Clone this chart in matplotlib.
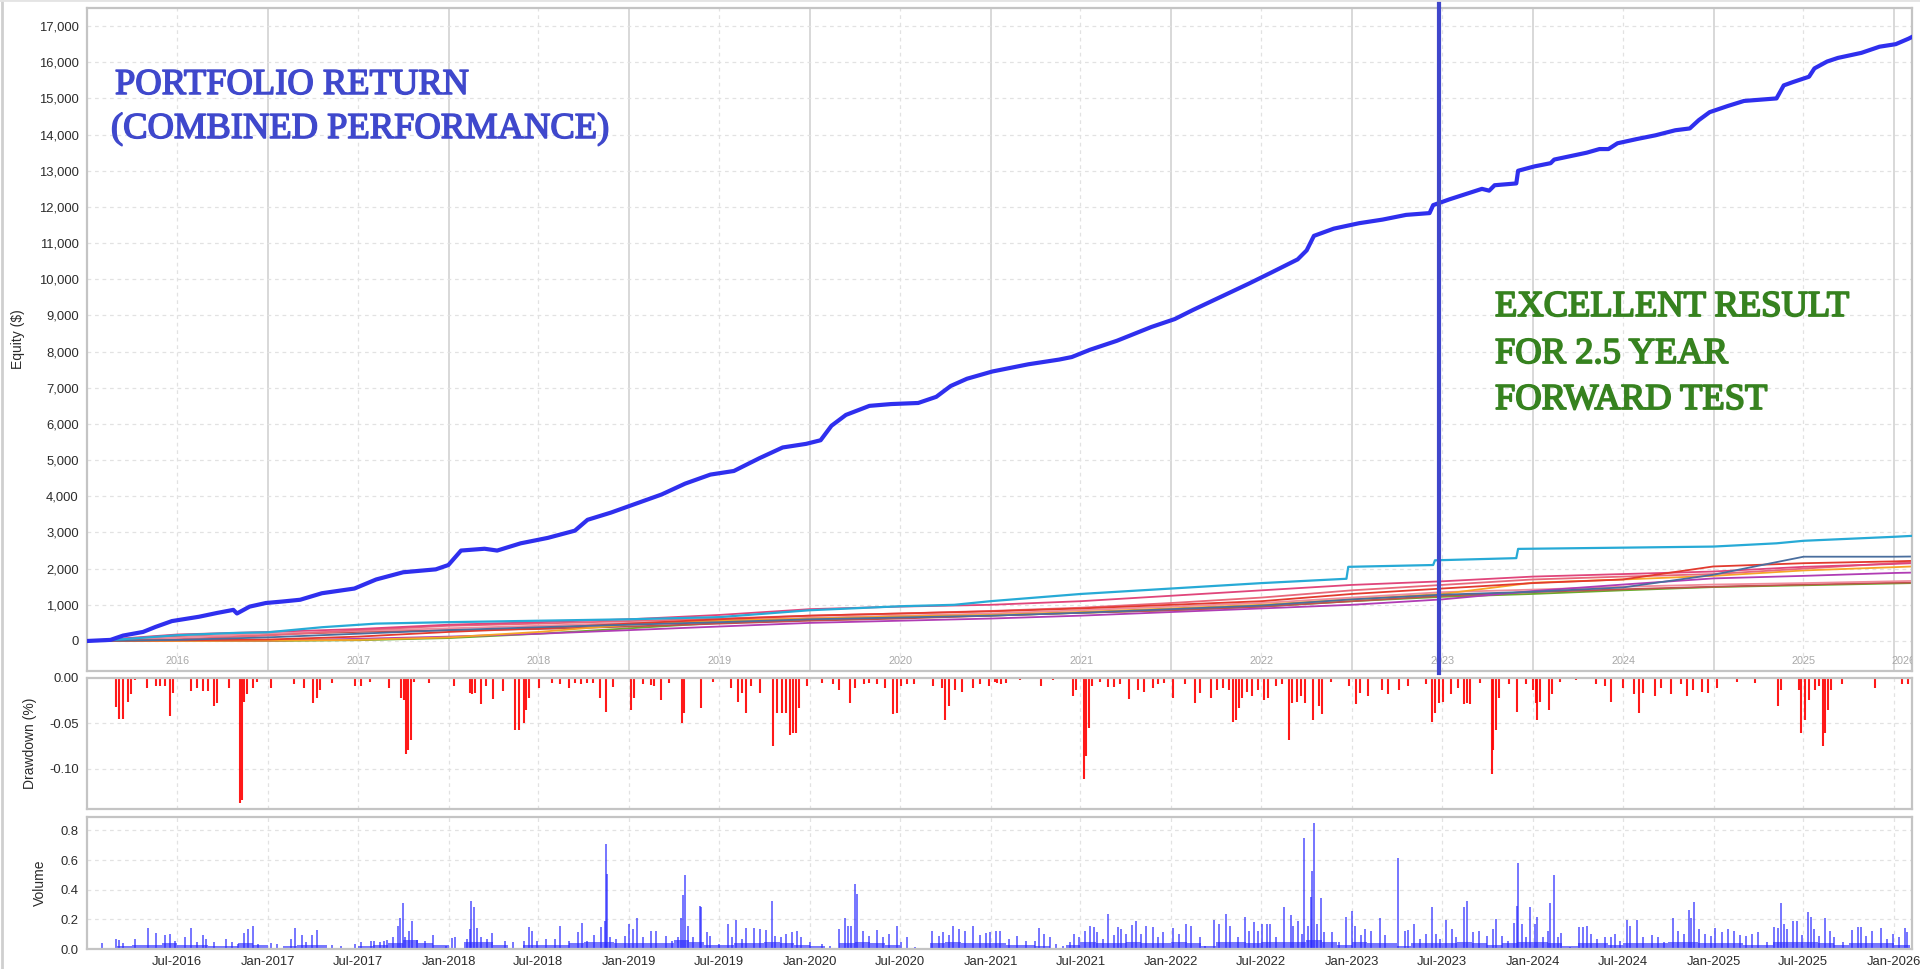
import matplotlib
matplotlib.use('Agg')
import matplotlib.pyplot as plt
import matplotlib.dates as mdates
import matplotlib.patheffects as pe
from matplotlib.lines import Line2D
import numpy as np
import pandas as pd

plt.rcParams['font.family'] = ['Liberation Sans', 'DejaVu Sans']
plt.rcParams['axes.unicode_minus'] = False

# ---------------- data ----------------
# portfolio equity (decimal year, $)
equity_years = [2016.00, 2016.13, 2016.20, 2016.31, 2016.38, 2016.47, 2016.62, 2016.72, 2016.81, 2016.83,
                2016.90, 2016.99, 2017.08, 2017.18, 2017.30, 2017.48, 2017.60, 2017.75, 2017.93, 2018.00,
                2018.07, 2018.20, 2018.27, 2018.40, 2018.55, 2018.70, 2018.77, 2018.90, 2019.04, 2019.18,
                2019.31, 2019.45, 2019.58, 2019.72, 2019.85, 2019.98, 2020.06, 2020.12, 2020.20, 2020.33,
                2020.45, 2020.60, 2020.70, 2020.78, 2020.87, 2021.01, 2021.21, 2021.38, 2021.45, 2021.55,
                2021.70, 2021.89, 2022.02, 2022.12, 2022.29, 2022.43, 2022.56, 2022.70, 2022.75, 2022.79,
                2022.90, 2023.04, 2023.17, 2023.30, 2023.43, 2023.45, 2023.54, 2023.72, 2023.76, 2023.79,
                2023.91, 2023.92, 2024.01, 2024.10, 2024.12, 2024.30, 2024.37, 2024.42, 2024.47, 2024.58,
                2024.68, 2024.79, 2024.87, 2024.92, 2024.98, 2025.08, 2025.17, 2025.35, 2025.39, 2025.44,
                2025.53, 2025.56, 2025.63, 2025.69, 2025.82, 2025.92, 2026.01, 2026.08, 2026.10]
equity_values = [0, 30, 150, 250, 390, 550, 670, 775, 860, 760,
                 950, 1050, 1090, 1140, 1320, 1450, 1700, 1900, 1980, 2100,
                 2500, 2550, 2500, 2700, 2850, 3050, 3350, 3550, 3800, 4050,
                 4350, 4600, 4700, 5050, 5350, 5450, 5550, 5950, 6250, 6500,
                 6550, 6580, 6750, 7050, 7250, 7450, 7650, 7780, 7850, 8050,
                 8300, 8680, 8900, 9150, 9550, 9880, 10200, 10550, 10800, 11200,
                 11400, 11550, 11650, 11780, 11830, 12050, 12210, 12500, 12450, 12600,
                 12650, 13000, 13120, 13210, 13310, 13500, 13600, 13600, 13760, 13880,
                 13980, 14120, 14170, 14400, 14620, 14790, 14930, 15000, 15360, 15450,
                 15600, 15830, 16020, 16120, 16260, 16430, 16500, 16650, 16700]

# individual strategies, sampled every half year
strat_years = [2016.0, 2016.5, 2017.0, 2017.5, 2018.0, 2018.5, 2019.0, 2019.5, 2020.0, 2020.5, 2021.0,
               2021.5, 2022.0, 2022.5, 2023.0, 2023.5, 2024.0, 2024.5, 2025.0, 2025.5, 2026.0, 2026.1]
strat_steel = [0, 30, 100, 200, 300, 380, 450, 520, 600, 650, 700, 780, 880, 980, 1150, 1280, 1360, 1480, 1830, 2330, 2330, 2335]
strat_red = [0, 20, 40, 120, 250, 350, 480, 600, 700, 760, 820, 900, 1000, 1100, 1300, 1450, 1600, 1700, 2060, 2150, 2200, 2215]
strat_crimson = [0, 180, 250, 330, 450, 520, 600, 720, 880, 950, 1000, 1100, 1250, 1400, 1550, 1650, 1780, 1850, 1920, 2050, 2130, 2150]
strat_salmon = [0, 50, 150, 300, 420, 480, 550, 620, 700, 760, 830, 920, 1050, 1200, 1400, 1550, 1700, 1780, 1850, 2000, 2150, 2180]
strat_orange = [0, 0, 10, 30, 100, 250, 450, 560, 620, 680, 720, 800, 900, 1000, 1150, 1300, 1610, 1700, 1800, 1950, 2040, 2060]
strat_magenta = [0, 0, 10, 60, 120, 200, 300, 400, 500, 560, 620, 700, 800, 900, 1000, 1150, 1380, 1560, 1730, 1800, 1880, 1890]
strat_ltpink = [0, 100, 200, 280, 350, 420, 500, 560, 640, 700, 760, 850, 950, 1050, 1200, 1350, 1420, 1500, 1560, 1600, 1650, 1660]
strat_brown = [0, 120, 180, 250, 300, 330, 400, 480, 560, 620, 700, 780, 850, 950, 1100, 1250, 1350, 1430, 1500, 1560, 1610, 1615]
strat_green = [0, 0, 0, 20, 80, 200, 350, 500, 600, 650, 700, 780, 850, 950, 1100, 1220, 1300, 1400, 1490, 1540, 1590, 1600]

cyan_years = [2016.0, 2016.2, 2016.5, 2016.8, 2017.0, 2017.3, 2017.6, 2018.0, 2018.5, 2019.0, 2019.5, 2020.0,
              2020.5, 2020.8, 2021.0, 2021.5, 2022.0, 2022.5, 2022.97, 2022.98, 2023.45, 2023.46, 2023.91,
              2023.92, 2024.5, 2025.0, 2025.35, 2025.5, 2026.0, 2026.1]
cyan_values = [0, 50, 160, 220, 240, 380, 480, 520, 560, 600, 660, 850,
               960, 1000, 1100, 1300, 1450, 1600, 1720, 2050, 2100, 2230, 2290,
               2546, 2580, 2610, 2700, 2770, 2880, 2906]

# drawdown bars (decimal year, %)
dd_years = [2016.159, 2016.175, 2016.201, 2016.227, 2016.243, 2016.266, 2016.331, 2016.380, 2016.403, 2016.429,
            2016.461, 2016.477, 2016.575, 2016.607, 2016.640, 2016.672, 2016.705, 2016.721, 2016.786, 2016.844,
            2016.857, 2016.870, 2016.883, 2016.916, 2016.942, 2017.019, 2017.143, 2017.201, 2017.250, 2017.273,
            2017.289, 2017.354, 2017.484, 2017.516, 2017.565, 2017.669, 2017.737, 2017.753, 2017.766, 2017.776,
            2017.792, 2017.808, 2017.890, 2018.029, 2018.117, 2018.133, 2018.149, 2018.182, 2018.208, 2018.247,
            2018.302, 2018.367, 2018.393, 2018.416, 2018.432, 2018.448, 2018.500, 2018.571, 2018.620, 2018.669,
            2018.701, 2018.734, 2018.766, 2018.799, 2018.841, 2018.873, 2018.912, 2019.010, 2019.026, 2019.075,
            2019.123, 2019.140, 2019.179, 2019.221, 2019.292, 2019.302, 2019.399, 2019.464, 2019.562, 2019.604,
            2019.627, 2019.649, 2019.675, 2019.724, 2019.799, 2019.821, 2019.844, 2019.870, 2019.893, 2019.909,
            2019.925, 2019.942, 2019.984, 2020.065, 2020.130, 2020.162, 2020.221, 2020.253, 2020.302, 2020.325,
            2020.373, 2020.416, 2020.461, 2020.481, 2020.503, 2020.536, 2020.578, 2020.682, 2020.731, 2020.747,
            2020.773, 2020.805, 2020.844, 2020.903, 2020.942, 2020.990, 2021.023, 2021.035, 2021.061, 2021.084,
            2021.165, 2021.279, 2021.344, 2021.458, 2021.474, 2021.516, 2021.529, 2021.546, 2021.562, 2021.604,
            2021.653, 2021.685, 2021.718, 2021.767, 2021.815, 2021.848, 2021.897, 2021.929, 2021.962, 2022.011,
            2022.076, 2022.132, 2022.157, 2022.222, 2022.254, 2022.287, 2022.320, 2022.342, 2022.359, 2022.375,
            2022.394, 2022.417, 2022.450, 2022.482, 2022.515, 2022.537, 2022.580, 2022.612, 2022.654, 2022.671,
            2022.694, 2022.716, 2022.742, 2022.785, 2022.817, 2022.833, 2022.882, 2022.986, 2023.025, 2023.045,
            2023.090, 2023.165, 2023.198, 2023.263, 2023.311, 2023.409, 2023.441, 2023.458, 2023.480, 2023.507,
            2023.546, 2023.588, 2023.620, 2023.637, 2023.653, 2023.708, 2023.773, 2023.783, 2023.799, 2023.816,
            2023.871, 2023.913, 2023.962, 2024.001, 2024.017, 2024.027, 2024.043, 2024.092, 2024.108, 2024.150,
            2024.238, 2024.352, 2024.401, 2024.433, 2024.498, 2024.563, 2024.589, 2024.612, 2024.677, 2024.710,
            2024.768, 2024.824, 2024.856, 2024.889, 2024.937, 2024.970, 2025.019, 2025.133, 2025.230, 2025.360,
            2025.376, 2025.474, 2025.484, 2025.507, 2025.529, 2025.562, 2025.588, 2025.607, 2025.620, 2025.637,
            2025.653, 2025.711, 2025.897, 2026.043, 2026.076]
dd_values = [-0.032, -0.045, -0.045, -0.026, -0.018, -0.002, -0.011, -0.009, -0.009, -0.009,
             -0.042, -0.017, -0.014, -0.011, -0.014, -0.014, -0.031, -0.028, -0.011, -0.137,
             -0.134, -0.026, -0.018, -0.011, -0.004, -0.011, -0.007, -0.011, -0.027, -0.022,
             -0.013, -0.006, -0.009, -0.009, -0.004, -0.011, -0.022, -0.024, -0.083, -0.079,
             -0.068, -0.004, -0.006, -0.009, -0.017, -0.018, -0.017, -0.029, -0.009, -0.023,
             -0.014, -0.057, -0.057, -0.050, -0.035, -0.022, -0.011, -0.006, -0.007, -0.011,
             -0.006, -0.007, -0.005, -0.006, -0.022, -0.037, -0.010, -0.035, -0.022, -0.007,
             -0.008, -0.009, -0.024, -0.006, -0.050, -0.039, -0.033, -0.004, -0.011, -0.026,
             -0.017, -0.038, -0.009, -0.017, -0.075, -0.039, -0.039, -0.039, -0.063, -0.061,
             -0.061, -0.033, -0.009, -0.006, -0.007, -0.013, -0.028, -0.011, -0.007, -0.006,
             -0.007, -0.011, -0.040, -0.039, -0.009, -0.007, -0.007, -0.009, -0.011, -0.046,
             -0.031, -0.013, -0.015, -0.011, -0.007, -0.009, -0.004, -0.006, -0.007, -0.006,
             -0.002, -0.009, -0.002, -0.020, -0.013, -0.111, -0.086, -0.055, -0.009, -0.004,
             -0.010, -0.010, -0.007, -0.023, -0.013, -0.015, -0.011, -0.007, -0.006, -0.022,
             -0.007, -0.027, -0.017, -0.022, -0.013, -0.011, -0.013, -0.048, -0.046, -0.033,
             -0.022, -0.015, -0.020, -0.013, -0.024, -0.022, -0.009, -0.007, -0.068, -0.028,
             -0.026, -0.020, -0.028, -0.046, -0.031, -0.040, -0.004, -0.009, -0.029, -0.017,
             -0.020, -0.013, -0.018, -0.013, -0.009, -0.007, -0.048, -0.039, -0.028, -0.026,
             -0.018, -0.011, -0.029, -0.028, -0.029, -0.006, -0.105, -0.079, -0.057, -0.022,
             -0.007, -0.037, -0.007, -0.013, -0.028, -0.046, -0.026, -0.035, -0.018, -0.004,
             -0.002, -0.007, -0.009, -0.026, -0.011, -0.018, -0.039, -0.017, -0.020, -0.011,
             -0.018, -0.007, -0.020, -0.013, -0.015, -0.017, -0.011, -0.004, -0.006, -0.031,
             -0.013, -0.013, -0.061, -0.046, -0.024, -0.013, -0.009, -0.075, -0.061, -0.035,
             -0.013, -0.007, -0.011, -0.007, -0.007]

# volume spikes (decimal year, lots)
vol_years = [2016.081, 2016.159, 2016.175, 2016.201, 2016.266, 2016.338, 2016.380, 2016.429, 2016.461, 2016.487,
             2016.542, 2016.575, 2016.607, 2016.640, 2016.656, 2016.705, 2016.769, 2016.802, 2016.834, 2016.867,
             2016.890, 2016.916, 2016.948, 2017.019, 2017.052, 2017.127, 2017.149, 2017.192, 2017.214, 2017.247,
             2017.273, 2017.354, 2017.403, 2017.484, 2017.516, 2017.571, 2017.588, 2017.623, 2017.646, 2017.662,
             2017.695, 2017.721, 2017.731, 2017.747, 2017.760, 2017.782, 2017.799, 2017.825, 2017.873, 2017.916,
             2017.987, 2018.019, 2018.036, 2018.101, 2018.117, 2018.127, 2018.143, 2018.156, 2018.182, 2018.214,
             2018.240, 2018.312, 2018.360, 2018.416, 2018.448, 2018.461, 2018.490, 2018.539, 2018.588, 2018.620,
             2018.669, 2018.718, 2018.740, 2018.766, 2018.805, 2018.847, 2018.864, 2018.873, 2018.880, 2018.896,
             2018.929, 2018.977, 2019.000, 2019.019, 2019.042, 2019.075, 2019.123, 2019.149, 2019.205, 2019.237,
             2019.269, 2019.289, 2019.299, 2019.312, 2019.328, 2019.351, 2019.390, 2019.399, 2019.432, 2019.448,
             2019.497, 2019.545, 2019.571, 2019.594, 2019.627, 2019.649, 2019.692, 2019.724, 2019.756, 2019.789,
             2019.805, 2019.838, 2019.870, 2019.903, 2019.929, 2019.951, 2020.000, 2020.065, 2020.114, 2020.162,
             2020.195, 2020.211, 2020.227, 2020.253, 2020.260, 2020.292, 2020.325, 2020.373, 2020.406, 2020.438,
             2020.481, 2020.503, 2020.536, 2020.584, 2020.675, 2020.714, 2020.740, 2020.773, 2020.795, 2020.828,
             2020.860, 2020.903, 2020.942, 2020.974, 2021.000, 2021.032, 2021.051, 2021.100, 2021.149, 2021.198,
             2021.246, 2021.269, 2021.295, 2021.328, 2021.360, 2021.399, 2021.441, 2021.464, 2021.490, 2021.523,
             2021.549, 2021.572, 2021.588, 2021.620, 2021.650, 2021.685, 2021.708, 2021.724, 2021.750, 2021.783,
             2021.806, 2021.832, 2021.858, 2021.897, 2021.929, 2021.955, 2022.011, 2022.043, 2022.082, 2022.108,
             2022.157, 2022.189, 2022.238, 2022.264, 2022.303, 2022.326, 2022.368, 2022.411, 2022.433, 2022.456,
             2022.482, 2022.505, 2022.531, 2022.547, 2022.580, 2022.622, 2022.661, 2022.677, 2022.700, 2022.726,
             2022.736, 2022.759, 2022.775, 2022.781, 2022.788, 2022.807, 2022.830, 2022.846, 2022.889, 2022.928,
             2022.970, 2023.002, 2023.019, 2023.051, 2023.074, 2023.107, 2023.155, 2023.181, 2023.253, 2023.295,
             2023.311, 2023.344, 2023.376, 2023.409, 2023.441, 2023.467, 2023.490, 2023.523, 2023.555, 2023.578,
             2023.620, 2023.637, 2023.669, 2023.702, 2023.750, 2023.783, 2023.799, 2023.832, 2023.864, 2023.897,
             2023.913, 2023.920, 2023.939, 2023.962, 2023.985, 2024.011, 2024.027, 2024.059, 2024.085, 2024.098,
             2024.118, 2024.141, 2024.157, 2024.206, 2024.255, 2024.280, 2024.303, 2024.326, 2024.359, 2024.401,
             2024.433, 2024.456, 2024.482, 2024.521, 2024.541, 2024.580, 2024.612, 2024.661, 2024.693, 2024.726,
             2024.775, 2024.807, 2024.840, 2024.866, 2024.879, 2024.895, 2024.921, 2024.954, 2024.986, 2025.009,
             2025.051, 2025.084, 2025.116, 2025.149, 2025.181, 2025.214, 2025.246, 2025.295, 2025.334, 2025.360,
             2025.376, 2025.393, 2025.409, 2025.441, 2025.464, 2025.490, 2025.523, 2025.539, 2025.555, 2025.588,
             2025.620, 2025.646, 2025.669, 2025.718, 2025.767, 2025.799, 2025.816, 2025.848, 2025.880, 2025.929,
             2025.962, 2025.994, 2026.026, 2026.059, 2026.075]
vol_values = [0.038, 0.067, 0.061, 0.038, 0.067, 0.139, 0.108, 0.097, 0.101, 0.056,
              0.079, 0.139, 0.045, 0.097, 0.067, 0.045, 0.067, 0.045, 0.034, 0.106,
              0.135, 0.157, 0.034, 0.038, 0.034, 0.067, 0.139, 0.097, 0.045, 0.097,
              0.128, 0.027, 0.022, 0.034, 0.045, 0.056, 0.052, 0.045, 0.056, 0.061,
              0.079, 0.157, 0.209, 0.310, 0.079, 0.124, 0.191, 0.061, 0.056, 0.097,
              0.022, 0.072, 0.079, 0.067, 0.135, 0.326, 0.285, 0.142, 0.079, 0.067,
              0.106, 0.056, 0.045, 0.056, 0.146, 0.124, 0.056, 0.067, 0.067, 0.157,
              0.056, 0.112, 0.175, 0.056, 0.094, 0.146, 0.191, 0.708, 0.506, 0.079,
              0.067, 0.090, 0.169, 0.135, 0.209, 0.079, 0.124, 0.124, 0.090, 0.056,
              0.079, 0.209, 0.366, 0.499, 0.157, 0.079, 0.292, 0.281, 0.112, 0.090,
              0.034, 0.169, 0.079, 0.196, 0.067, 0.142, 0.142, 0.135, 0.128, 0.326,
              0.090, 0.079, 0.101, 0.112, 0.119, 0.079, 0.045, 0.034, 0.022, 0.135,
              0.209, 0.157, 0.157, 0.438, 0.371, 0.119, 0.090, 0.128, 0.079, 0.101,
              0.157, 0.045, 0.079, 0.011, 0.119, 0.090, 0.112, 0.097, 0.157, 0.135,
              0.119, 0.157, 0.097, 0.106, 0.112, 0.124, 0.124, 0.067, 0.090, 0.056,
              0.056, 0.142, 0.101, 0.079, 0.034, 0.022, 0.045, 0.101, 0.079, 0.124,
              0.157, 0.146, 0.112, 0.067, 0.236, 0.097, 0.151, 0.135, 0.101, 0.164,
              0.191, 0.101, 0.157, 0.151, 0.079, 0.112, 0.142, 0.101, 0.169, 0.157,
              0.079, 0.022, 0.198, 0.169, 0.236, 0.157, 0.079, 0.218, 0.124, 0.180,
              0.124, 0.169, 0.169, 0.169, 0.079, 0.281, 0.229, 0.157, 0.191, 0.101,
              0.748, 0.157, 0.348, 0.528, 0.852, 0.169, 0.342, 0.112, 0.112, 0.049,
              0.218, 0.258, 0.157, 0.097, 0.135, 0.124, 0.209, 0.097, 0.611, 0.124,
              0.128, 0.169, 0.067, 0.101, 0.281, 0.101, 0.067, 0.198, 0.135, 0.079,
              0.285, 0.321, 0.112, 0.124, 0.090, 0.135, 0.202, 0.090, 0.056, 0.173,
              0.292, 0.578, 0.169, 0.079, 0.281, 0.169, 0.218, 0.079, 0.124, 0.310,
              0.499, 0.079, 0.108, 0.011, 0.146, 0.146, 0.157, 0.101, 0.067, 0.079,
              0.079, 0.101, 0.056, 0.198, 0.157, 0.198, 0.083, 0.097, 0.079, 0.045,
              0.209, 0.124, 0.101, 0.263, 0.209, 0.315, 0.135, 0.101, 0.090, 0.139,
              0.112, 0.135, 0.124, 0.097, 0.090, 0.101, 0.112, 0.045, 0.146, 0.142,
              0.308, 0.169, 0.135, 0.191, 0.191, 0.097, 0.247, 0.218, 0.135, 0.090,
              0.209, 0.124, 0.079, 0.045, 0.128, 0.146, 0.151, 0.090, 0.124, 0.142,
              0.067, 0.101, 0.079, 0.142, 0.112]

# typical daily volume per month, Jan-2016 .. Jan-2026
vol_base = [0.00, 0.01, 0.02, 0.03, 0.03, 0.04, 0.03, 0.03, 0.02, 0.02, 0.04, 0.03,
            0.01, 0.02, 0.03, 0.03, 0.01, 0.01, 0.02, 0.03, 0.04, 0.06, 0.04, 0.03,
            0.01, 0.05, 0.05, 0.03, 0.01, 0.03, 0.03, 0.03, 0.04, 0.05, 0.05, 0.04,
            0.04, 0.04, 0.04, 0.06, 0.05, 0.03, 0.03, 0.04, 0.04, 0.05, 0.04, 0.03,
            0.02, 0.01, 0.04, 0.05, 0.04, 0.03, 0.01, 0.00, 0.04, 0.05, 0.04, 0.04,
            0.04, 0.03, 0.03, 0.02, 0.01, 0.03, 0.05, 0.04, 0.04, 0.05, 0.04, 0.04,
            0.05, 0.04, 0.02, 0.05, 0.05, 0.04, 0.05, 0.05, 0.05, 0.06, 0.05, 0.03,
            0.05, 0.04, 0.04, 0.02, 0.04, 0.04, 0.04, 0.05, 0.04, 0.03, 0.04, 0.05,
            0.05, 0.04, 0.02, 0.04, 0.04, 0.03, 0.04, 0.04, 0.04, 0.05, 0.05, 0.04,
            0.04, 0.04, 0.03, 0.03, 0.05, 0.05, 0.05, 0.04, 0.03, 0.04, 0.04, 0.04,
            0.03]

forward_test_start = '2023-06-25'
year_labels = ['2016', '2017', '2018', '2019', '2020', '2021', '2022', '2023', '2024', '2025', '2026']


def to_dates(years):
    years = np.asarray(years, dtype=float)
    d = pd.Timestamp('2016-01-01') + pd.to_timedelta((years - 2016.0) * 365.25, unit='D')
    return mdates.date2num(d.to_pydatetime())


x_start = mdates.date2num(pd.Timestamp('2016-01-01'))
x_end = mdates.date2num(pd.Timestamp('2026-02-06'))

fig = plt.figure(figsize=(19.2, 9.69), dpi=100)
W, H = 1920.0, 969.0


def box(left, top, right, bottom):
    return [left / W, 1 - bottom / H, (right - left) / W, (bottom - top) / H]


ax = fig.add_axes(box(87, 8, 1912, 671))
ax_dd = fig.add_axes(box(87, 678, 1912, 809))
ax_vol = fig.add_axes(box(87, 817, 1912, 949))

spine_col = '#C4C4C4'
grid_col = '#E2E2E2'
tick_col = '#2B2B2B'
jan_lines = [mdates.date2num(pd.Timestamp(f'{y}-01-01')) for y in range(2017, 2027)]
jul_lines = [mdates.date2num(pd.Timestamp(f'{y}-07-01')) for y in range(2016, 2026)]

for a in (ax, ax_dd, ax_vol):
    a.set_xlim(x_start, x_end)
    for s in a.spines.values():
        s.set_color(spine_col)
        s.set_linewidth(1.6)
    a.tick_params(axis='both', length=0, labelsize=9.4, colors=tick_col, pad=6)
    a.set_xticks([])
    for xv in jul_lines:
        a.axvline(xv, color=grid_col, lw=0.9, ls=(0, (3, 3)), zorder=0)
    if a is ax:
        for xv in jan_lines:
            a.axvline(xv, color='#D6D6D6', lw=1.3, zorder=0)
    else:
        for xv in jan_lines:
            a.axvline(xv, color=grid_col, lw=0.9, ls=(0, (3, 3)), zorder=0)

# ---- main equity panel ----
ax.set_ylim(-830, 17500)
ax.set_yticks(range(0, 17001, 1000))
ax.set_yticklabels([f'{v:,}' for v in range(0, 17001, 1000)])
for yv in range(0, 17001, 1000):
    ax.axhline(yv, color=grid_col, lw=0.9, ls=(0, (3, 3)), zorder=0)
ax.set_ylabel('Equity ($)', fontsize=10, color=tick_col)
ax.yaxis.set_label_coords(-0.034, 0.5)

sx = to_dates(strat_years)
strategies = [
    (strat_green, '#6BAA2C'),
    (strat_brown, '#C0504D'),
    (strat_ltpink, '#F08C9C'),
    (strat_magenta, '#B03CB4'),
    (strat_orange, '#F7A428'),
    (strat_salmon, '#E8677A'),
    (strat_crimson, '#E0457B'),
    (strat_red, '#E23A2E'),
    (strat_steel, '#4A6E9E'),
]
for vals, col in strategies:
    ax.plot(sx, vals, color=col, lw=1.3, zorder=2)
ax.plot(to_dates(cyan_years), cyan_values, color='#27AAD6', lw=1.6, zorder=3)

ax.plot(to_dates(equity_years), equity_values, color='#2F2FEE', lw=3.0, zorder=4,
        solid_joinstyle='round')

# year labels centred in each visible year span
for lab in year_labels:
    y0 = mdates.date2num(pd.Timestamp(f'{lab}-01-01'))
    y1 = min(mdates.date2num(pd.Timestamp(f'{int(lab) + 1}-01-01')), x_end)
    ax.text((y0 + y1) / 2, 0.0155, lab, transform=ax.get_xaxis_transform(),
            ha='center', va='center', fontsize=7.8, color='#A8A8A8', clip_on=True)

# forward test marker
ax.axvline(mdates.date2num(pd.Timestamp(forward_test_start)), ymin=-0.003, ymax=1.0075,
           clip_on=False, color='#3F46CB', lw=3.0, zorder=6)

# ---- drawdown panel ----
ax_dd.set_ylim(-0.144, 0.0)
ax_dd.set_yticks([0.0, -0.05, -0.10])
ax_dd.set_yticklabels(['0.00', '-0.05', '-0.10'])
for yv in (-0.05, -0.10):
    ax_dd.axhline(yv, color=grid_col, lw=0.9, ls=(0, (3, 3)), zorder=0)
ax_dd.vlines(to_dates(dd_years), dd_values, 0, colors='#FF0000', lw=1.5, alpha=0.9, zorder=2)
ax_dd.set_ylabel('Drawdown (%)', fontsize=10, color=tick_col)
ax_dd.yaxis.set_label_coords(-0.0274, 0.5)

# ---- volume panel ----
ax_vol.set_ylim(0, 0.89)
ax_vol.set_yticks([0.0, 0.2, 0.4, 0.6, 0.8])
ax_vol.set_yticklabels(['0.0', '0.2', '0.4', '0.6', '0.8'])
for yv in (0.2, 0.4, 0.6, 0.8):
    ax_vol.axhline(yv, color=grid_col, lw=0.9, ls=(0, (3, 3)), zorder=0)
month_edges = mdates.date2num(pd.date_range('2016-01-01', '2026-02-01', freq='MS').to_pydatetime())
ax_vol.fill_between(month_edges, 0, vol_base + [vol_base[-1]], step='post',
                    color='#1E1EFF', alpha=0.6, lw=0, zorder=1)
ax_vol.vlines(to_dates(vol_years), 0, vol_values, colors='#2424FF', lw=1.1, alpha=0.8, zorder=2)
ax_vol.set_ylabel('Volume', fontsize=10, color=tick_col)
ax_vol.yaxis.set_label_coords(-0.0219, 0.5)

tick_dates = sorted(jul_lines + jan_lines)
ax_vol.set_xticks(tick_dates)
ax_vol.xaxis.set_major_formatter(mdates.DateFormatter('%b-%Y'))
ax_vol.tick_params(axis='x', pad=5)

# ---- annotations ----
serif = ['Liberation Serif', 'DejaVu Serif']
blue_txt = '#3F48CC'
blue_fx = [pe.withStroke(linewidth=1.1, foreground=blue_txt)]
fig.text(115 / W, 1 - 94 / H, 'PORTFOLIO RETURN', color=blue_txt, fontsize=26.3,
         family=serif, va='baseline', ha='left', path_effects=blue_fx)
fig.text(111 / W, 1 - 138 / H, '(COMBINED PERFORMANCE)', color=blue_txt, fontsize=26.3,
         family=serif, va='baseline', ha='left', path_effects=blue_fx)

green_txt = '#36821F'
green_fx = [pe.withStroke(linewidth=1.3, foreground=green_txt)]
for txt, base in (('EXCELLENT RESULT', 316), ('FOR 2.5 YEAR', 363), ('FORWARD TEST', 409)):
    fig.text(1495 / W, 1 - base / H, txt, color=green_txt, fontsize=26.3,
             family=serif, va='baseline', ha='left', path_effects=green_fx)

# thin frame of the screenshot
fig.add_artist(Line2D([0.0008, 0.0008], [0, 1], color='#CFCFCF', lw=2, transform=fig.transFigure))
fig.add_artist(Line2D([0, 1], [0.9995, 0.9995], color='#E4E4E4', lw=2, transform=fig.transFigure))

fig.savefig('out.png', dpi=100, facecolor='white')
